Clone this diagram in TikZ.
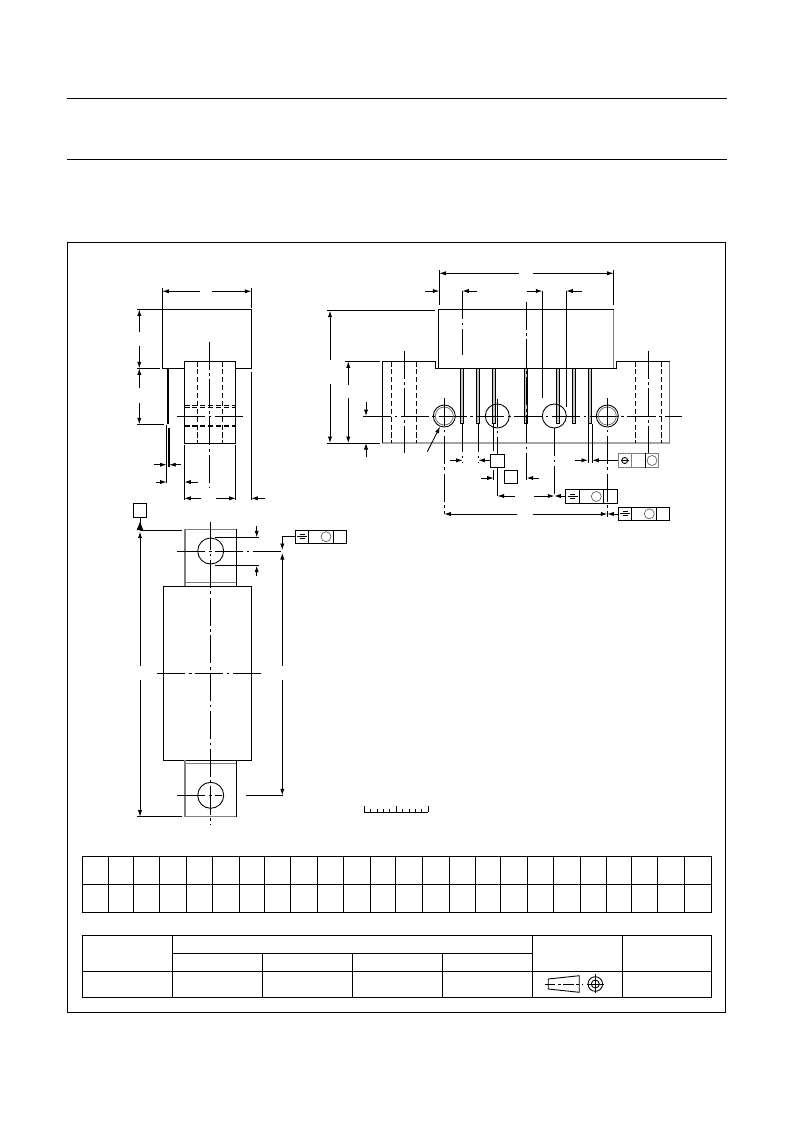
\documentclass[tikz,border=0pt]{standalone}
\usetikzlibrary{arrows.meta}
\tikzset{
	dim/.style={-{Latex[length=1.3mm,width=0.85mm]},line width=0.5pt},
	part/.style={line width=0.5pt},
	lightpart/.style={line width=0.8pt,color=black!50},
	thin line/.style={line width=0.5pt},
	axisline/.style={line width=0.5pt,dash pattern=on 16pt off 2pt on 1.5pt off 2pt},
	hidden/.style={line width=0.5pt,dash pattern=on 3pt off 1.5pt},
	toldot/.style={line width=0.4pt,color=black!60},
	pin/.style={line width=0.4pt,fill=gray!45}
}
\newcommand{\symsign}[2]{\draw[line width=0.45pt] (#1-2.5,#2-2)--(#1+2.5,#2-2) (#1-5,#2)--(#1+5,#2) (#1-2.5,#2+2)--(#1+2.5,#2+2);}
\begin{document}
\begin{tikzpicture}[x=0.02cm,y=-0.02cm]
	\useasboundingbox (0,0) rectangle (793,1123);
	\draw[part] (67,98)--(727,98);
	\draw[part] (67,159)--(727,159);
	\draw[part] (67,242) rectangle (725,1012);
	% left view
	\draw[part] (184.3,368.3)--(162.3,368.3)--(162.3,309.3)--(251.3,309.3)--(251.3,368.3)--(235.7,368.3);
	\draw[part] (184.3,361.3) rectangle (235.7,443.3);
	\draw[axisline] (209.3,341.7)--(209.3,486.7);
	\draw[hidden] (197.3,361.3)--(197.3,443.3);
	\draw[hidden] (222.3,361.3)--(222.3,443.3);
	\draw[hidden] (184.3,405.5)--(235.7,405.5);
	\draw[hidden] (184.3,407.8)--(235.7,407.8);
	\draw[hidden,line width=1pt] (184.3,425.7)--(235.7,425.7);
	\draw[axisline] (177,416)--(244,416);
	\draw[line width=1.3pt] (168,368.3)--(168,424);
	\draw[thin line] (166.5,424.5)--(166.5,483);
	\draw[line width=0.9pt] (169.2,428)--(169.2,467);
	\draw[thin line] (162.3,288)--(162.3,309) (251.3,288)--(251.3,308);
	\draw[dim] (200,291.3)--(162.3,291.3);
	\draw[dim] (212,291.3)--(251.3,291.3);
	\draw[thin line] (137,309.3)--(162,309.3) (137,368.3)--(160,368.3) (137,424.3)--(164,424.3);
	\draw[dim] (139.3,332)--(139.3,309.3);
	\draw[dim] (139.3,346)--(139.3,368.3);
	\draw[dim] (139.3,388)--(139.3,368.3);
	\draw[dim] (139.3,403)--(139.3,424.3);
	\draw[dim] (154,464.7)--(166.5,464.7);
	\draw[dim] (181,464.7)--(169.2,464.7);
	\draw[dim] (155.7,482)--(166.5,482);
	\draw[dim] (198,482)--(184.3,482);
	\draw[thin line] (184.3,445)--(184.3,500) (235.7,445)--(235.7,500) (251.3,371.7)--(251.3,500);
	\draw[dim] (201,498.3)--(184.3,498.3);
	\draw[dim] (216,498.3)--(235.7,498.3);
	\draw[dim] (265,498.3)--(251.3,498.3);
	% datum
	\draw[part] (133.3,503.3) rectangle (146.7,517.7);
	\draw[thin line] (140,517.7)--(140,525);
	\fill (140,522)--(143.3,530)--(136.7,530)--cycle;
	\draw[thin line] (140,530.3)--(182,530.3);
	% front view
	\draw[part] (163.3,586.3) rectangle (251.3,760.3);
	\draw[lightpart] (185,586)--(185,529.3)--(236.3,529.3);
	\draw[part] (236.3,529.3)--(236.3,586);
	\draw[lightpart] (185,582.3)--(236.3,582.3);
	\draw[lightpart] (185,760.3)--(185,816.7)--(236.3,816.7);
	\draw[lightpart] (185,763.3)--(236.3,763.3);
	\draw[part] (236.3,760.3)--(236.3,816.7);
	\draw[part] (210.7,551) circle (13);
	\draw[part] (210.7,795.3) circle (13);
	\draw[axisline] (210.7,522)--(210.7,825);
	\draw[axisline] (177.3,551)--(283,551);
	\draw[axisline] (177.3,795.3)--(222,795.3);
	\draw[thin line] (246,795.3)--(283,795.3);
	\draw[axisline] (157.3,673.3)--(264,673.3);
	\draw[thin line] (215,537.3)--(259,537.3) (215,565.7)--(259,565.7);
	\draw[dim] (256.7,525.7)--(256.7,537.3);
	\draw[dim] (256.7,575.7)--(256.7,565.7);
	\draw[part] (295.7,530.3) rectangle (346.7,543.3);
	\draw[part] (308.3,530.3)--(308.3,543.3) (333.3,530.3)--(333.3,543.3);
	\draw[toldot] (326,536.7) circle (5);
	\symsign{302}{536.7}
	\draw[thin line] (295.7,536.7)--(282.3,536.7);
	\draw[dim] (282.3,536.7)--(282.3,550);
	\draw[dim] (282.3,665.7)--(282.3,553);
	\draw[dim] (282.3,680)--(282.3,795.3);
	\draw[dim] (140,665.7)--(140,531.7);
	\draw[dim] (140,680)--(140,816.7);
	\draw[thin line] (137.3,816.7)--(182,816.7);
	% right view
	\foreach \pinx in {462,478,494,526,558,574,590}
		\draw[pin] (\pinx-1.7,368.7) rectangle (\pinx+1.7,423.7);
	\draw[lightpart] (613.7,309.7)--(613.7,368.7);
	\draw[line width=1.3pt,color=black!35] (382.3,442.7)--(669.7,442.7);
	\draw[lightpart] (669.7,361.3)--(669.7,442.7);
	\draw[part] (382.3,442.7)--(382.3,361.3)--(435.7,361.3)--(435.7,368.7)--(616.3,368.7)--(616.3,361.3)--(669.7,361.3);
	\draw[part] (438.7,368.7)--(438.7,309.7)--(613.7,309.7);
	\draw[hidden] (391.3,361.3)--(391.3,442.7);
	\draw[hidden] (416.3,361.3)--(416.3,442.7);
	\draw[hidden] (635.3,361.3)--(635.3,442.7);
	\draw[hidden] (661.3,361.3)--(661.3,442.7);
	\draw[axisline] (404.7,350.7)--(404.7,453.3);
	\draw[axisline] (648.7,350.7)--(648.7,453.3);
	\draw[axisline] (363,416)--(681.7,416);
	\foreach \holex in {444.3,607.3}{
		\draw[part] (\holex,416) circle (11);
		\draw[toldot] (\holex,416) circle (9);
	}
	\draw[part] (497.3,416) circle (12);
	\draw[part] (554.3,416) circle (12);
	\draw[axisline] (444.3,398)--(444.3,514);
	\draw[axisline] (607.3,398)--(607.3,517);
	\draw[axisline] (497.5,399)--(497.5,454);
	\draw[thin line] (497.5,468)--(497.5,496);
	\draw[axisline] (493.7,424)--(493.7,451);
	\draw[thin line] (493.7,470)--(493.7,480);
	\draw[axisline] (462.7,424)--(462.7,462);
	\draw[axisline] (478.3,424)--(478.3,462);
	\draw[axisline] (526.7,301.7)--(526.7,480);
	\draw[axisline] (554.3,428)--(554.3,497);
	\draw[thin line] (588,424)--(588,463) (592.3,424)--(592.3,463);
	\draw[thin line] (439.3,270)--(439.3,305) (613.7,270)--(613.7,305);
	\draw[dim] (519,273.3)--(439.3,273.3);
	\draw[dim] (532.7,273.3)--(613.7,273.3);
	\draw[dim] (425,291)--(439.3,291);
	\draw[axisline] (462.3,291)--(462.3,355);
	\draw[dim] (477,291)--(462.3,291);
	\draw[dim] (526.7,291)--(542.3,291);
	\draw[thin line] (542.3,291)--(542.3,398);
	\draw[dim] (581.7,291)--(566.3,291);
	\draw[thin line] (566.3,291)--(566.3,406.7);
	\draw[thin line] (327.3,310.7)--(435,310.7) (327.3,443)--(380,443) (345.3,361.3)--(380,361.3);
	\draw[dim] (330,360)--(330,310.7);
	\draw[dim] (330,384)--(330,443);
	\draw[dim] (348.3,385)--(348.3,361.3);
	\draw[dim] (348.3,397.7)--(348.3,443);
	\draw[dim] (366,402.3)--(366,416);
	\draw[dim] (366,457.3)--(366,443);
	\draw[dim] (427.3,451.7)--(440,426.7);
	\draw[part,fill=white] (490.3,454.3) rectangle (504.3,467.7);
	\draw[part] (504.3,470.3) rectangle (517.7,483.7);
	\draw[dim] (450,460.3)--(462.7,460.3);
	\draw[dim] (490.3,460.3)--(478.3,460.3);
	\draw[dim] (481,478)--(493.7,478);
	\draw[dim] (539,478)--(526.7,478);
	\draw[dim] (515,496)--(497.5,496);
	\draw[dim] (534,496)--(554.3,496);
	\draw[dim] (565.3,496)--(554.3,496);
	\draw[dim] (517.3,514)--(444.3,514);
	\draw[dim] (532.7,514)--(607.3,514);
	\draw[dim] (618.3,514)--(607.3,514);
	\draw[dim] (575,460.3)--(588,460.3);
	\draw[dim] (618.3,460.3)--(592.3,460.3);
	\draw[lightpart] (618.3,453.3) rectangle (658.7,467.7);
	\draw[lightpart] (631.7,453.3)--(631.7,467.7);
	\draw[part] (645.3,453.3)--(645.3,467.7);
	\draw[toldot] (652,460.5) circle (5);
	\draw[thin line] (624.7,460.5) circle (3);
	\draw[thin line] (620.5,460.5)--(629,460.5);
	\draw[part] (565.3,489.3) rectangle (617.3,503.7);
	\draw[part] (579.7,489.3)--(579.7,503.7) (603.3,489.3)--(603.3,503.7);
	\draw[toldot] (596.3,496.5) circle (5);
	\symsign{572.5}{496.5}
	\draw[part] (618.3,507.3) rectangle (669.7,520.3);
	\draw[part] (631.7,507.3)--(631.7,520.3) (656.7,507.3)--(656.7,520.3);
	\draw[toldot] (649.3,513.8) circle (5);
	\symsign{625}{513.8}
	% scale
	\draw[thin line] (364.3,812)--(428.3,812);
	\foreach \tickx in {0,5,10}
		\draw[thin line] (364.3+\tickx*6.4,812)--(364.3+\tickx*6.4,806);
	\foreach \tickx in {1,2,3,4,6,7,8,9}
		\draw[thin line] (364.3+\tickx*6.4,812)--(364.3+\tickx*6.4,809);
	% tables
	\draw[part] (82,856) rectangle (711,912.3);
	\draw[part] (82,884.3)--(711,884.3);
	\foreach \colx in {108.1,133.8,159.9,186,212.9,239,264.7,290.8,317.8,343.9,370,395.7,422.2,449.1,475.2,500.9,527,553.1,580,606.1,631.8,657.9,684.9}
		\draw[part] (\colx,856)--(\colx,912.3);
	\draw[part] (82,935.3) rectangle (711,997.3);
	\draw[part] (82,971)--(711,971);
	\draw[part] (172,953.3)--(532,953.3);
	\draw[part] (172,935.3)--(172,997.3);
	\draw[part] (532,935.3)--(532,997.3);
	\draw[part] (622,935.3)--(622,997.3);
	\foreach \colx in {262,352,442}
		\draw[part] (\colx,953.3)--(\colx,997.3);
	% projection mark
	\draw[thin line] (548.3,979)--(579.3,975.7)--(579.3,992.3)--(548.3,989)--cycle;
	\draw[thin line,dash pattern=on 6pt off 1.5pt on 1.5pt off 1.5pt] (544.7,984)--(583.3,984);
	\draw[thin line] (595.3,984) circle (7.3);
	\draw[thin line] (595.3,984) circle (4);
	\draw[thin line] (586.7,984)--(604,984);
	\draw[thin line] (595.3,974)--(595.3,993);
\end{tikzpicture}
\end{document}
